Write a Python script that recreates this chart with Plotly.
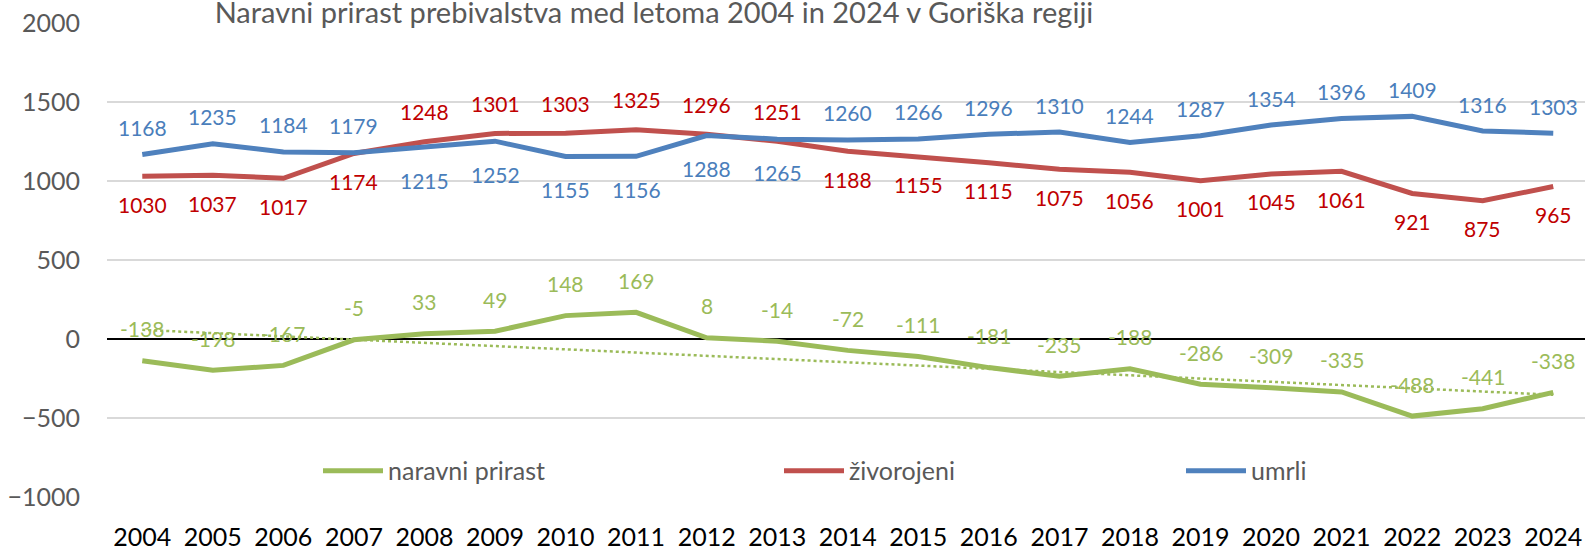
import numpy as np
import plotly.graph_objects as go

# =========================================================================
# Data (Goriška regija, 2004-2024)
# =========================================================================
years = list(range(2004, 2025))
zivorojeni = [1030, 1037, 1017, 1174, 1248, 1301, 1303, 1325, 1296, 1251, 1188,
              1155, 1115, 1075, 1056, 1001, 1045, 1061, 921, 875, 965]
umrli = [1168, 1235, 1184, 1179, 1215, 1252, 1155, 1156, 1288, 1265, 1260,
         1266, 1296, 1310, 1244, 1287, 1354, 1396, 1409, 1316, 1303]
naravni_prirast = [-138, -198, -167, -5, 33, 49, 148, 169, 8, -14, -72,
                   -111, -181, -235, -188, -286, -309, -335, -488, -441, -338]

# years where the births label sits above its line (deaths label below)
births_label_on_top = range(2008, 2014)

y_ticks = [-1000, -500, 0, 500, 1000, 1500, 2000]
title = "Naravni prirast prebivalstva med letoma 2004 in 2024 v Goriška regiji"

# =========================================================================
# Style
# =========================================================================
COLORS = {
    "green": "#9BBB59",
    "red": "#C0504D",
    "blue": "#4F81BD",
    "red_lbl": "#C00000",
    "blue_lbl": "#4A7EBB",
    "grey": "#595959",
}
FONT = "Lato, 'Open Sans', sans-serif"
LBL_SIZE = 21

# linear trend of natural increase (as Excel's trendline)
slope, icpt = np.polyfit(years, naravni_prirast, 1)
trend = [slope * y + icpt for y in years]

fig = go.Figure()

fig.add_trace(go.Scatter(
    x=years, y=naravni_prirast, mode="lines", name="naravni prirast",
    line=dict(color=COLORS["green"], width=5), legend="legend",
))
fig.add_trace(go.Scatter(
    x=years, y=trend, mode="lines", showlegend=False, hoverinfo="skip",
    line=dict(color=COLORS["green"], width=2.5, dash="dot"),
))
fig.add_trace(go.Scatter(
    x=years, y=zivorojeni, mode="lines", name="živorojeni",
    line=dict(color=COLORS["red"], width=5), legend="legend2",
))
fig.add_trace(go.Scatter(
    x=years, y=umrli, mode="lines", name="umrli",
    line=dict(color=COLORS["blue"], width=5), legend="legend3",
))

# data labels
for yr, b, d, n in zip(years, zivorojeni, umrli, naravni_prirast):
    top = yr in births_label_on_top
    fig.add_annotation(x=yr, y=b, text=str(b), showarrow=False,
                       yshift=30 if top else -28,
                       font=dict(family=FONT, size=LBL_SIZE, color=COLORS["red_lbl"]))
    fig.add_annotation(x=yr, y=d, text=str(d), showarrow=False,
                       yshift=-33 if top else 27,
                       font=dict(family=FONT, size=LBL_SIZE, color=COLORS["blue_lbl"]))
    fig.add_annotation(x=yr, y=n, text=str(n), showarrow=False, yshift=32,
                       font=dict(family=FONT, size=LBL_SIZE, color=COLORS["green"]))

legend_common = dict(
    orientation="h", yanchor="middle", y=0.055, xanchor="left",
    bgcolor="rgba(0,0,0,0)", itemwidth=60,
    font=dict(family=FONT, size=25, color=COLORS["grey"]),
)

fig.update_layout(
    width=1585, height=551,
    margin=dict(l=107, r=0, t=23, b=48),
    plot_bgcolor="white", paper_bgcolor="white",
    font=dict(family=FONT, color=COLORS["grey"]),
    title=dict(text=title, x=654 / 1585, xanchor="center",
               yref="container", y=1 - 3 / 551, yanchor="top", pad=dict(t=0),
               font=dict(family=FONT, size=29, color=COLORS["grey"])),
    legend=dict(x=(318 - 107) / 1478, **legend_common),
    legend2=dict(x=(779 - 107) / 1478, **legend_common),
    legend3=dict(x=(1181 - 107) / 1478, **legend_common),
    xaxis=dict(
        range=[2003.5, 2024.45], tickvals=years, showgrid=False,
        zeroline=False, showline=False, ticks="", ticklabelstandoff=23,
        tickfont=dict(family=FONT, size=25, color="black"),
    ),
    yaxis=dict(
        range=[-1000, 2000], tickvals=y_ticks, showgrid=True,
        gridcolor="#D9D9D9", gridwidth=1.5,
        zeroline=True, zerolinecolor="black", zerolinewidth=1.5,
        showline=False, ticks="", ticklabelstandoff=26,
        tickfont=dict(family=FONT, size=25, color=COLORS["grey"]),
    ),
)

fig.write_html("out.html", config={"displayModeBar": False},
               post_script="document.body.style.margin='0';")
